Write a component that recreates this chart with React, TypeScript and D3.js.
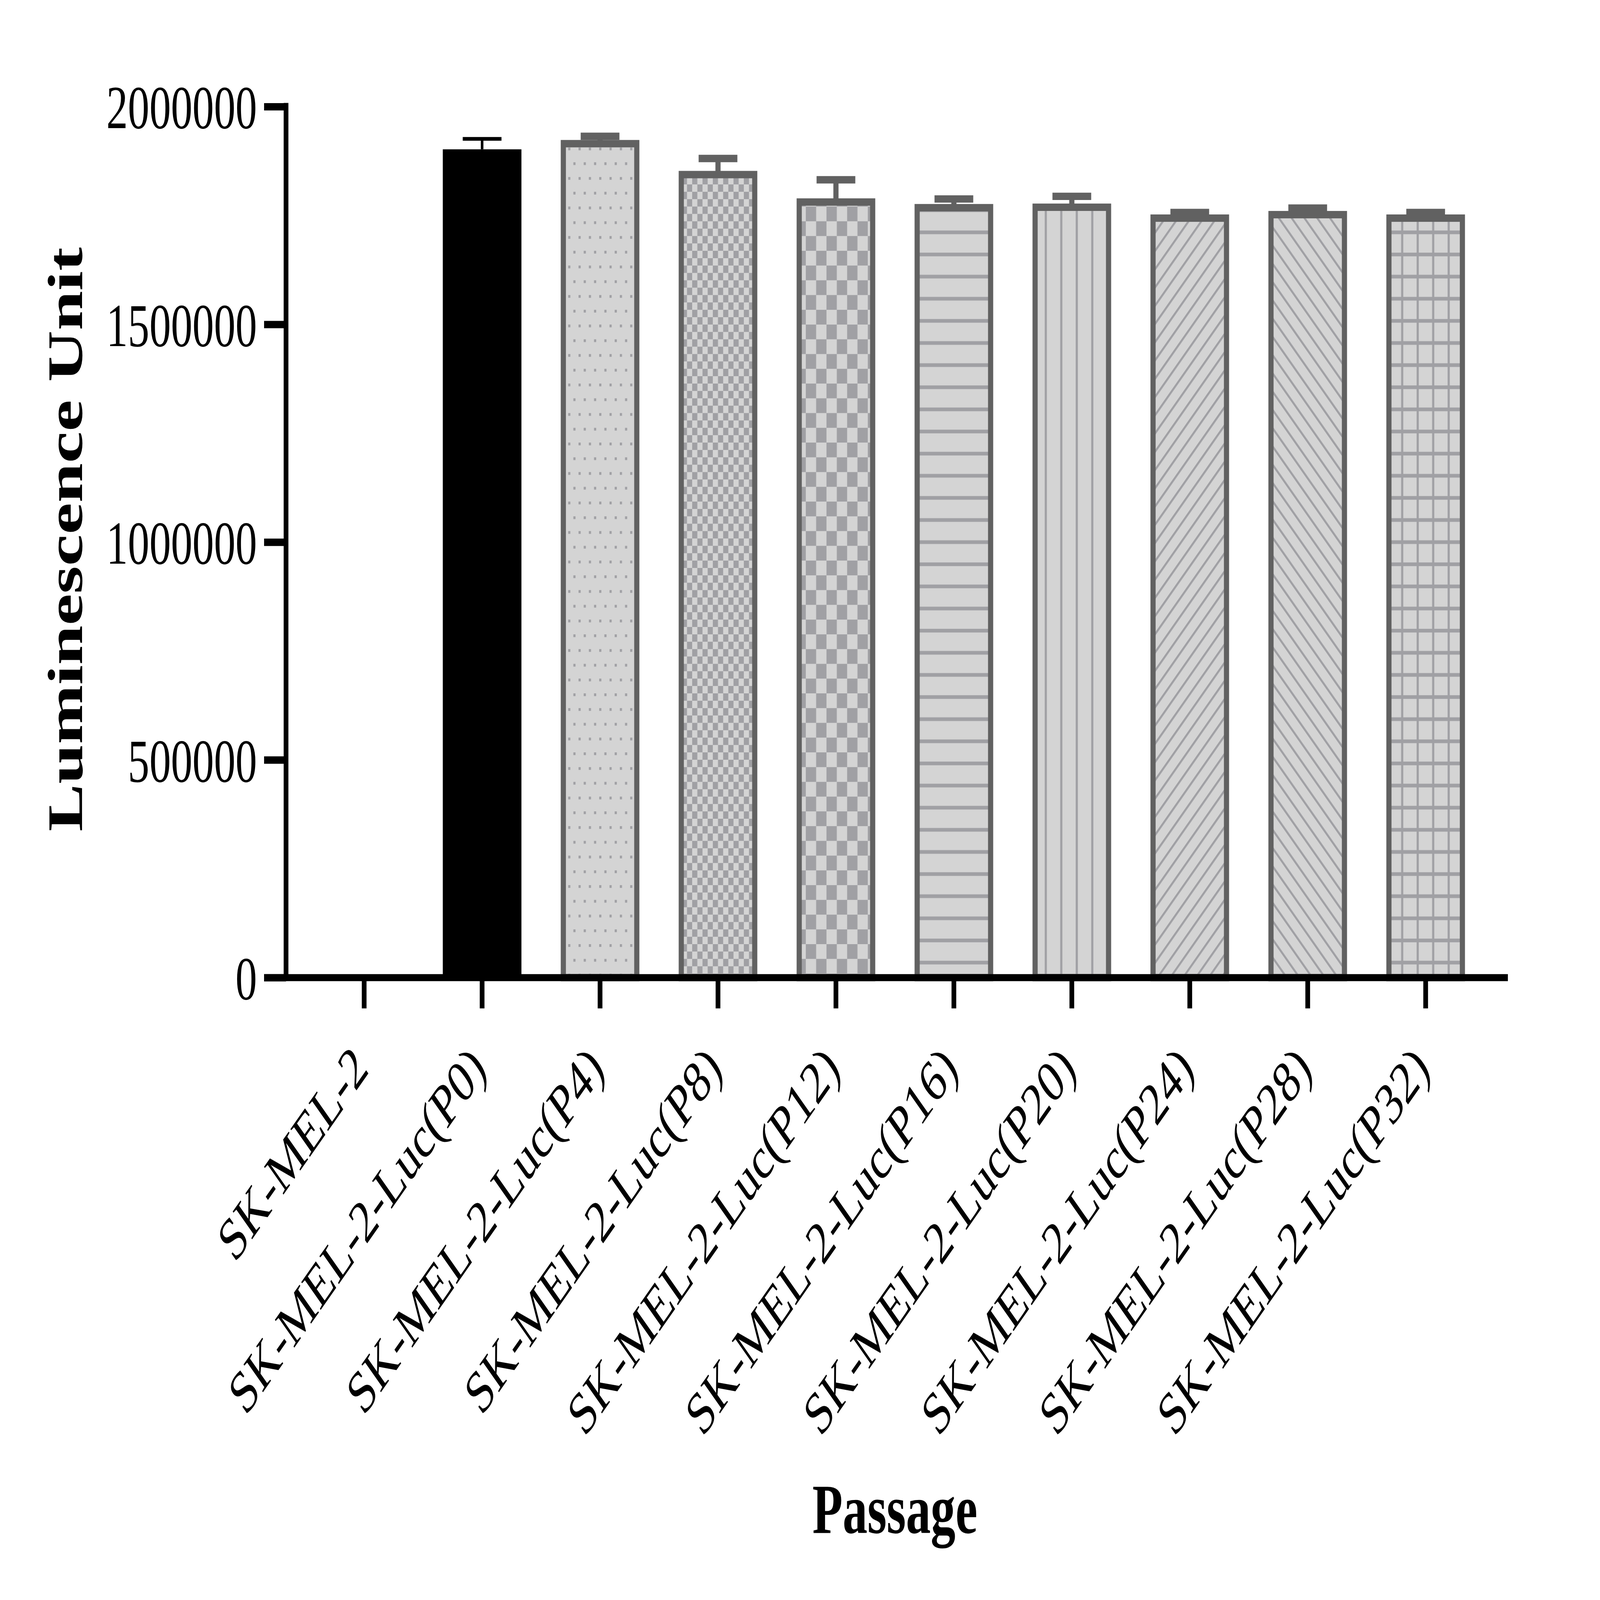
import { useEffect, useRef } from 'react';
import * as d3 from 'd3';

const categories = [
  'SK-MEL-2',
  'SK-MEL-2-Luc(P0)',
  'SK-MEL-2-Luc(P4)',
  'SK-MEL-2-Luc(P8)',
  'SK-MEL-2-Luc(P12)',
  'SK-MEL-2-Luc(P16)',
  'SK-MEL-2-Luc(P20)',
  'SK-MEL-2-Luc(P24)',
  'SK-MEL-2-Luc(P28)',
  'SK-MEL-2-Luc(P32)',
];
const means = [0, 1902000, 1915000, 1844000, 1781000, 1768000, 1769000, 1744000, 1752000, 1744000];
const errors = [0, 24000, 17000, 37000, 51000, 20000, 25000, 13000, 15000, 13000];
const yTicks = [0, 500000, 1000000, 1500000, 2000000];

const W = 7434;
const H = 5206;
const FONT = '"Liberation Serif", "Times New Roman", Times, serif';
const EDGE = '#616161';
const LIGHT = '#d4d4d4';
const DARK = '#a0a0a4';

// fill used by each bar, same order as categories
const barFills = [
  'none',
  '#000000',
  'url(#p-dots)',
  'url(#p-check-s)',
  'url(#p-check-l)',
  'url(#p-hline)',
  'url(#p-vline)',
  'url(#p-diag-up)',
  'url(#p-diag-down)',
  'url(#p-grid)',
];

export default function App() {
  const svgRef = useRef<SVGSVGElement | null>(null);

  useEffect(() => {
    if (!svgRef.current) return;
    document.body.style.margin = '0';
    document.body.style.overflow = 'hidden';
    const svg = d3.select(svgRef.current);
    svg.selectAll('*').remove();

    svg.append('rect').attr('width', W).attr('height', H).attr('fill', '#ffffff');

    // patterns
    const defs = svg.append('defs');
    function pattern(id: string, w: number, h: number, transform?: string) {
      const p = defs.append('pattern')
        .attr('id', id)
        .attr('patternUnits', 'userSpaceOnUse')
        .attr('width', w)
        .attr('height', h);
      if (transform) p.attr('patternTransform', transform);
      p.append('rect').attr('width', w).attr('height', h).attr('fill', LIGHT);
      return p;
    }
    const dots = pattern('p-dots', 48, 96);
    dots.append('rect').attr('x', 0).attr('y', 0).attr('width', 10).attr('height', 9).attr('fill', DARK);
    dots.append('rect').attr('x', 24).attr('y', 48).attr('width', 10).attr('height', 9).attr('fill', DARK);

    const checkS = pattern('p-check-s', 48, 48);
    checkS.append('rect').attr('x', 0).attr('y', 0).attr('width', 24).attr('height', 24).attr('fill', DARK);
    checkS.append('rect').attr('x', 24).attr('y', 24).attr('width', 24).attr('height', 24).attr('fill', DARK);

    const checkL = pattern('p-check-l', 96, 96);
    checkL.append('rect').attr('x', 0).attr('y', 0).attr('width', 48).attr('height', 48).attr('fill', DARK);
    checkL.append('rect').attr('x', 48).attr('y', 48).attr('width', 48).attr('height', 48).attr('fill', DARK);

    const hline = pattern('p-hline', 72, 72);
    hline.append('rect').attr('x', 0).attr('y', 30).attr('width', 72).attr('height', 12).attr('fill', DARK);

    const vline = pattern('p-vline', 72, 72);
    vline.append('rect').attr('x', 30).attr('y', 0).attr('width', 10).attr('height', 72).attr('fill', DARK);

    const diagUp = pattern('p-diag-up', 42, 42, 'rotate(45)');
    diagUp.append('rect').attr('x', 0).attr('y', 0).attr('width', 8).attr('height', 42).attr('fill', DARK);

    const diagDown = pattern('p-diag-down', 42, 42, 'rotate(-45)');
    diagDown.append('rect').attr('x', 0).attr('y', 0).attr('width', 8).attr('height', 42).attr('fill', DARK);

    const grid = pattern('p-grid', 72, 72);
    grid.append('rect').attr('x', 30).attr('y', 0).attr('width', 10).attr('height', 72).attr('fill', DARK);
    grid.append('rect').attr('x', 0).attr('y', 30).attr('width', 72).attr('height', 12).attr('fill', DARK);

    // scales
    const x = d3.scaleBand<string>()
      .domain(categories)
      .range([1418, 6898])
      .paddingInner(1 / 3)
      .paddingOuter(1 / 6);
    const y = d3.scaleLinear().domain([0, 2000000]).range([3181, 347]);
    const bw = x.bandwidth();

    // bars
    const bars = svg.append('g');
    categories.forEach((c, i) => {
      if (!means[i]) return;
      const x0 = x(c)!;
      if (i === 1) {
        bars.append('rect')
          .attr('x', x0)
          .attr('width', bw)
          .attr('y', y(means[i]))
          .attr('height', y(0) - y(means[i]))
          .attr('fill', barFills[i]);
      } else {
        bars.append('rect')
          .attr('x', x0 + 12)
          .attr('width', bw - 24)
          .attr('y', y(means[i]))
          .attr('height', y(0) - y(means[i]))
          .attr('fill', barFills[i])
          .attr('stroke', EDGE)
          .attr('stroke-width', 24);
      }
    });

    // error bars (upper only)
    const errs = svg.append('g');
    categories.forEach((c, i) => {
      if (!errors[i]) return;
      const cx = x(c)! + bw / 2;
      const color = i === 1 ? '#000000' : EDGE;
      const lw = i === 1 ? 12 : 24;
      const top = y(means[i] + errors[i]);
      errs.append('line')
        .attr('x1', cx).attr('x2', cx)
        .attr('y1', y(means[i])).attr('y2', top)
        .attr('stroke', color).attr('stroke-width', lw);
      errs.append('line')
        .attr('x1', cx - 90).attr('x2', cx + 90)
        .attr('y1', top).attr('y2', top)
        .attr('stroke', color).attr('stroke-width', lw);
    });

    // y axis
    const yAxis = svg.append('g')
      .attr('transform', 'translate(1329,0)')
      .call(d3.axisLeft(y).tickValues(yTicks).tickSize(102).tickPadding(33).tickFormat(d3.format('d')));
    yAxis.select('.domain').remove();
    yAxis.attr('font-family', FONT).attr('font-size', 200);
    yAxis.selectAll('line').attr('stroke', '#000').attr('stroke-width', 24);
    yAxis.selectAll('text').attr('fill', '#000').attr('dy', '0.35em');
    svg.append('line')
      .attr('x1', 1329).attr('x2', 1329)
      .attr('y1', 335).attr('y2', 3181)
      .attr('stroke', '#000').attr('stroke-width', 22);

    // x axis
    const xAxis = svg.append('g')
      .attr('transform', 'translate(0,3181)')
      .call(d3.axisBottom(x).tickSize(100).tickPadding(0));
    xAxis.select('.domain').remove();
    xAxis.attr('font-family', FONT).attr('font-size', 195);
    xAxis.selectAll('line').attr('stroke', '#000').attr('stroke-width', 22);
    xAxis.selectAll('text')
      .attr('fill', '#000')
      .attr('y', null)
      .attr('dy', null)
      .attr('text-anchor', 'end')
      .attr('transform', 'translate(27,304) rotate(-45)');
    svg.append('line')
      .attr('x1', 1227).attr('x2', 7006)
      .attr('y1', 3181).attr('y2', 3181)
      .attr('stroke', '#000').attr('stroke-width', 23);

    // titles
    svg.append('text')
      .attr('transform', 'translate(382,1755) rotate(-90)')
      .attr('text-anchor', 'middle')
      .attr('font-family', FONT)
      .attr('font-weight', 'bold')
      .attr('font-size', 232)
      .text('Luminescence Unit');

    svg.append('text')
      .attr('x', x.range()[0] + (x.range()[1] - x.range()[0]) / 2)
      .attr('y', 4988)
      .attr('text-anchor', 'middle')
      .attr('font-family', FONT)
      .attr('font-weight', 'bold')
      .attr('font-size', 230)
      .text('Passage');
  }, []);

  return (
    <svg
      ref={svgRef}
      viewBox={`0 0 ${W} ${H}`}
      preserveAspectRatio="none"
      style={{ display: 'block', width: '100vw', height: '100vh' }}
    ></svg>
  );
}
